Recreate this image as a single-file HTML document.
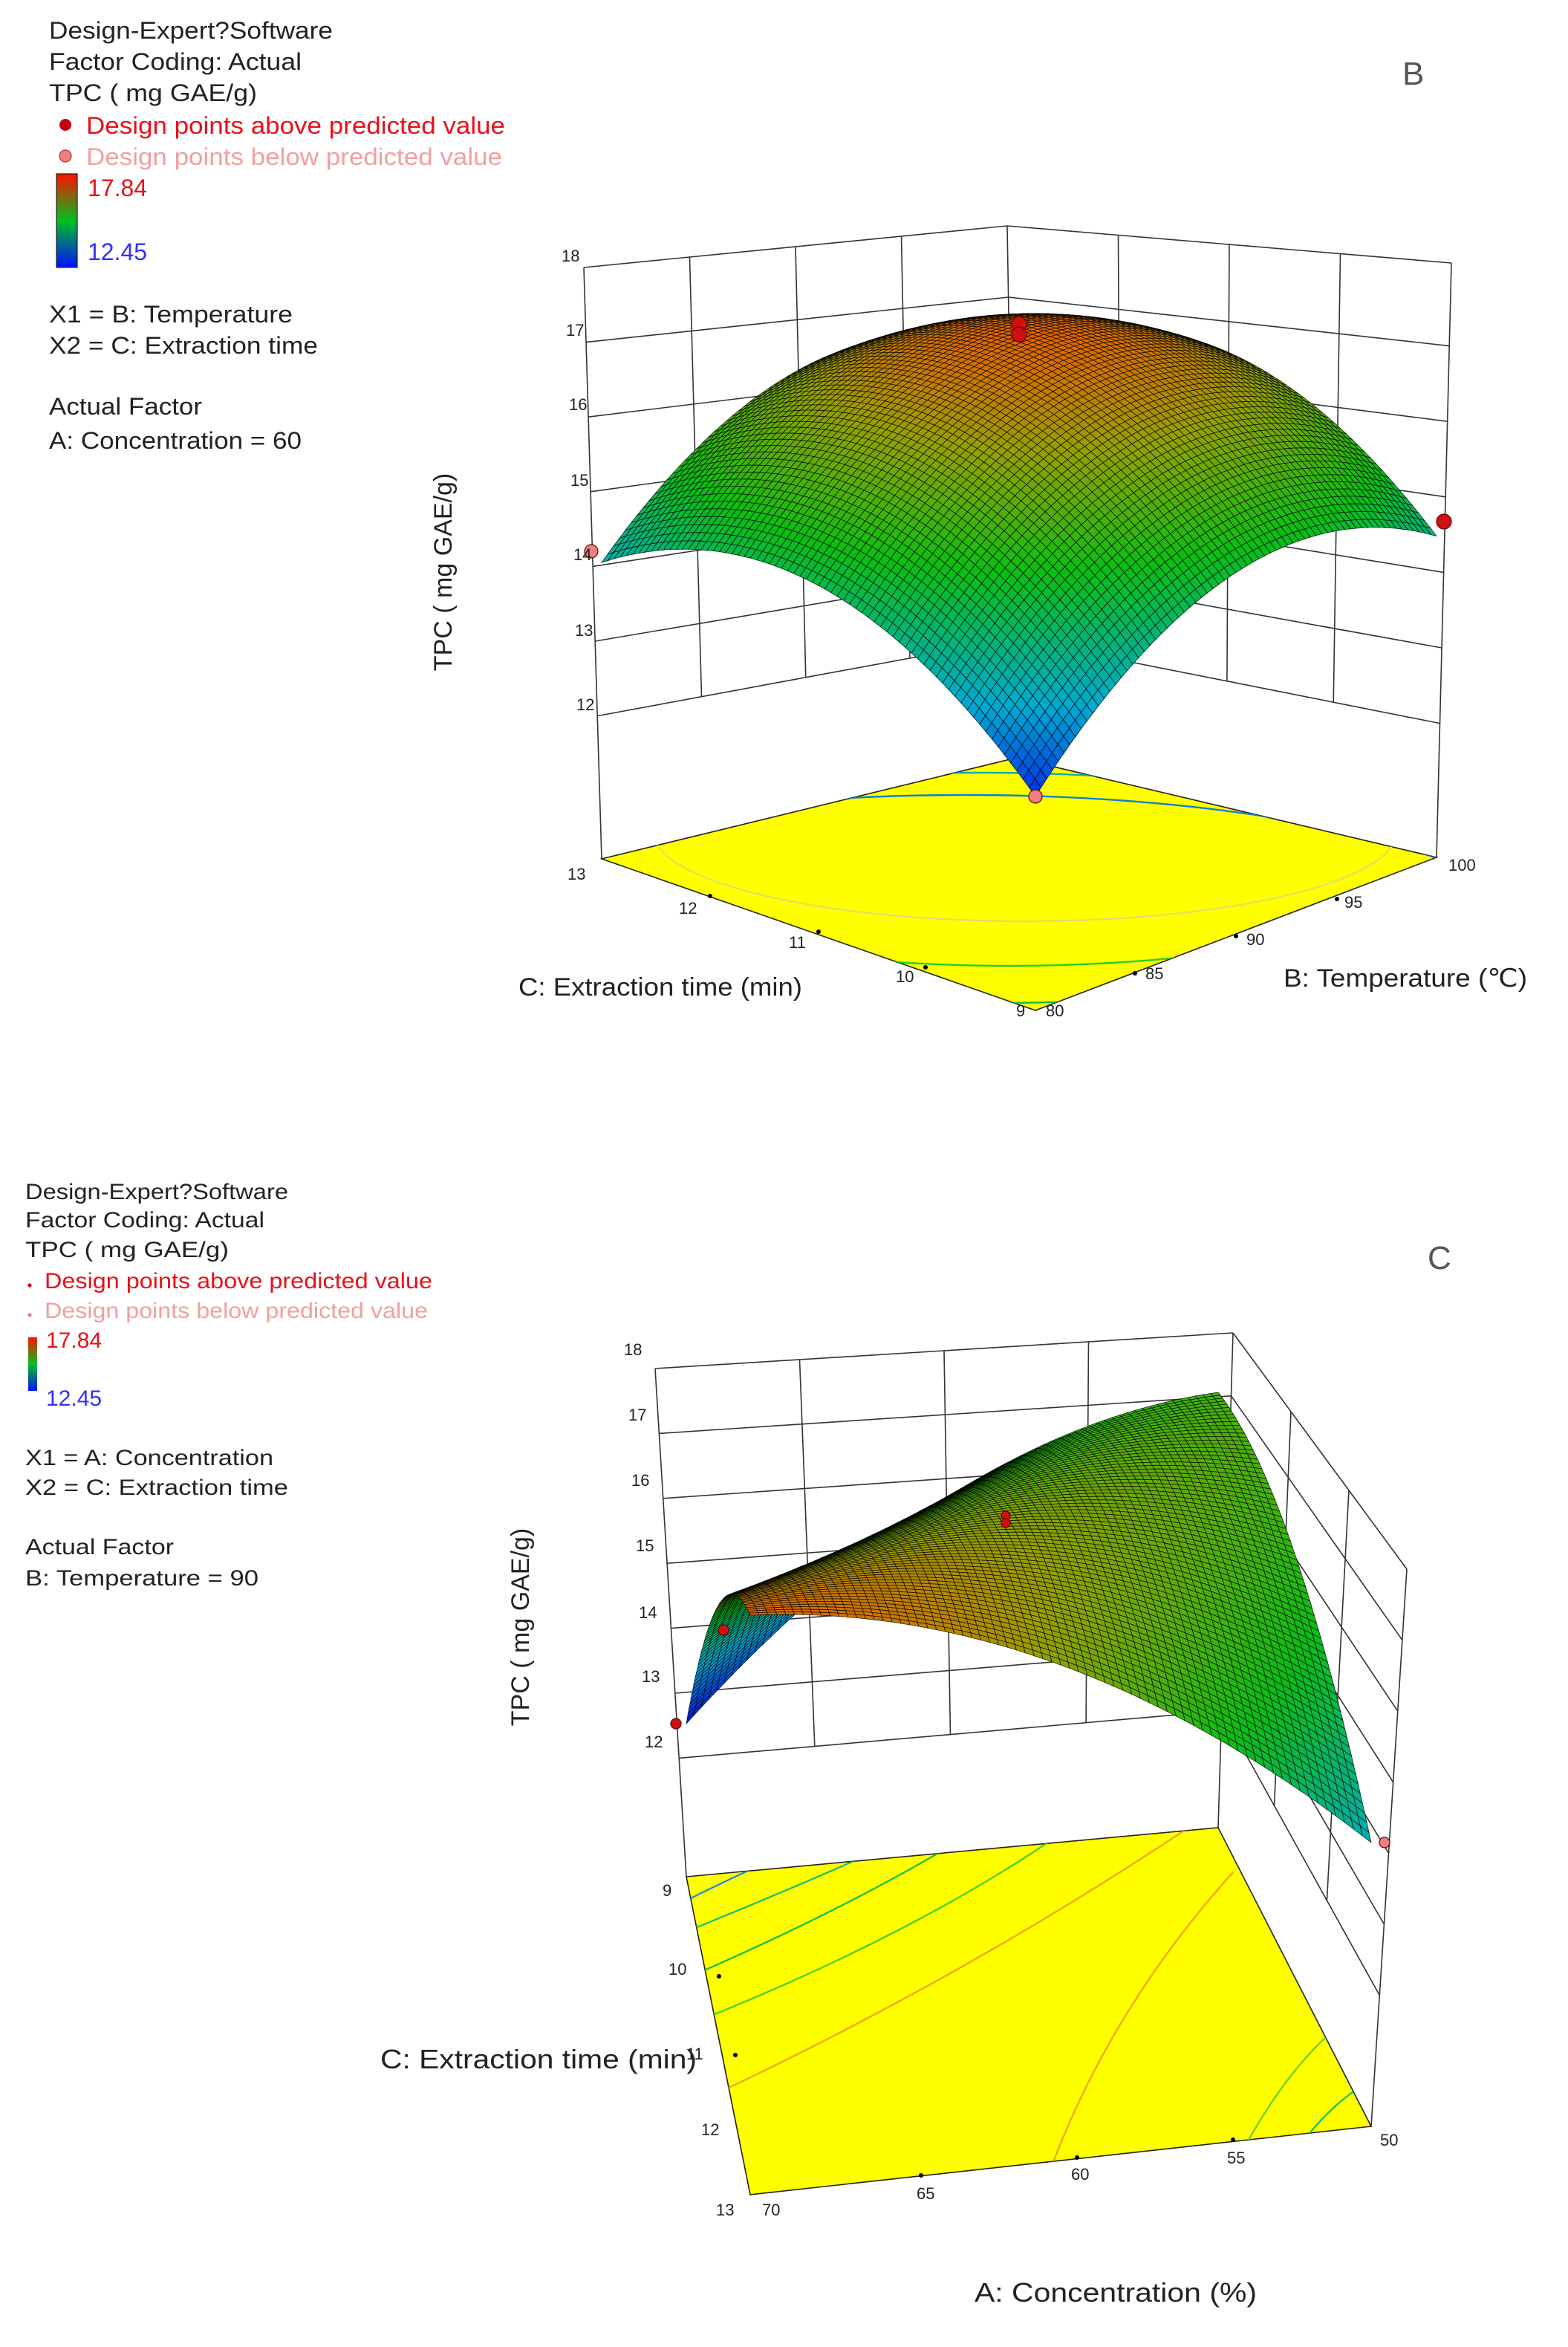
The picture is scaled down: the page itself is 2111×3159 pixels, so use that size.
<!DOCTYPE html>
<html><head><meta charset="utf-8">
<style>
html,body{margin:0;padding:0;background:#fff;}
svg{display:block;}
text{font-family:"Liberation Sans","DejaVu Sans",sans-serif;}
</style></head>
<body>
<svg id="s" xmlns="http://www.w3.org/2000/svg" width="2111" height="3159" viewBox="0 0 1055.5 1579.5">
<defs>
<linearGradient id="cb" x1="0" y1="1" x2="0" y2="0">
<stop offset="0" stop-color="#0010ff"/><stop offset="0.5" stop-color="#00c020"/><stop offset="1" stop-color="#ff1000"/>
</linearGradient>
<clipPath id="fB"><polygon points="405,578 697,680 967,577 684,510"/></clipPath>
<clipPath id="fC"><polygon points="462,1263 820,1230 923,1431 505,1477"/></clipPath>
</defs>
<rect width="1055.5" height="1579.5" fill="#fff"/>
<g id="walls" stroke="#333" stroke-width="0.8" fill="none"></g>
<polygon points="405,578 697,680 967,577 684,510" fill="#ffff00" stroke="#222" stroke-width="0.8"/>
<g clip-path="url(#fB)" fill="none" stroke-width="1.2">
<ellipse cx="690" cy="560" rx="250" ry="60" stroke="#e0e060"/>
<ellipse cx="680" cy="575" rx="300" ry="75" stroke="#20d020"/>
<ellipse cx="670" cy="590" rx="330" ry="85" stroke="#10c040"/>
<ellipse cx="660" cy="610" rx="360" ry="90" stroke="#10b0a0"/>
<ellipse cx="650" cy="630" rx="380" ry="95" stroke="#1080d0"/>
</g>
<polygon points="462,1263 820,1230 923,1431 505,1477" fill="#ffff00" stroke="#222" stroke-width="0.8"/>
<g clip-path="url(#fC)" fill="none" stroke-width="1.1">
<path d="M460,1280 Q520,1250 560,1235" stroke="#1090d0"/>
<path d="M462,1300 Q560,1260 620,1232" stroke="#10c070"/>
<path d="M465,1330 Q580,1280 660,1230" stroke="#10c040"/>
<path d="M470,1360 Q620,1300 720,1230" stroke="#40d020"/>
<path d="M480,1410 Q650,1330 800,1230" stroke="#f0a020"/>
<path d="M700,1480 Q740,1360 830,1260" stroke="#f0a020"/>
<path d="M830,1460 Q870,1380 920,1350" stroke="#60d020"/>
<path d="M870,1450 Q900,1410 925,1400" stroke="#10c060"/>
</g>
<g id="surf"></g>
<g id="pts"></g>
<g id="txt" font-size="11" fill="#222"></g>

<g font-size="16" fill="#222">
<text x="33" y="26" textLength="191" lengthAdjust="spacingAndGlyphs">Design-Expert?Software</text>
<text x="33" y="47" textLength="170" lengthAdjust="spacingAndGlyphs">Factor Coding: Actual</text>
<text x="33" y="68" textLength="140" lengthAdjust="spacingAndGlyphs">TPC ( mg GAE/g)</text>
<circle cx="44" cy="84" r="4" fill="#c00010"/>
<text x="58" y="90" fill="#e8101a" textLength="282" lengthAdjust="spacingAndGlyphs">Design points above predicted value</text>
<circle cx="44" cy="105" r="4" fill="#f08080" stroke="#a04040" stroke-width="0.6"/>
<text x="58" y="111" fill="#f0a0a0" textLength="280" lengthAdjust="spacingAndGlyphs">Design points below predicted value</text>
<rect x="38" y="117" width="14" height="63" fill="url(#cb)" stroke="#222" stroke-width="0.6"/>
<text x="59" y="132" fill="#e8101a">17.84</text>
<text x="59" y="175" fill="#3030ff">12.45</text>
<text x="33" y="217" textLength="164" lengthAdjust="spacingAndGlyphs">X1 = B: Temperature</text>
<text x="33" y="238" textLength="181" lengthAdjust="spacingAndGlyphs">X2 = C: Extraction time</text>
<text x="33" y="279" textLength="103" lengthAdjust="spacingAndGlyphs">Actual Factor</text>
<text x="33" y="302" textLength="170" lengthAdjust="spacingAndGlyphs">A: Concentration = 60</text>
<text x="944" y="57" font-size="22" fill="#555">B</text>
<text x="349" y="670" font-size="17" textLength="191" lengthAdjust="spacingAndGlyphs">C: Extraction time (min)</text>
<text x="864" y="664" font-size="17" textLength="164" lengthAdjust="spacingAndGlyphs">B: Temperature (℃)</text>
<text transform="translate(304,385) rotate(-90)" text-anchor="middle" font-size="17">TPC ( mg GAE/g)</text>
</g>
<g font-size="15" fill="#222">
<text x="17" y="807" textLength="177" lengthAdjust="spacingAndGlyphs">Design-Expert?Software</text>
<text x="17" y="826" textLength="161" lengthAdjust="spacingAndGlyphs">Factor Coding: Actual</text>
<text x="17" y="846" textLength="137" lengthAdjust="spacingAndGlyphs">TPC ( mg GAE/g)</text>
<circle cx="20" cy="865" r="1.3" fill="#c00010"/>
<text x="30" y="867" fill="#e8101a" textLength="261" lengthAdjust="spacingAndGlyphs">Design points above predicted value</text>
<circle cx="20" cy="885" r="1.3" fill="#e08080"/>
<text x="30" y="887" fill="#f0a0a0" textLength="258" lengthAdjust="spacingAndGlyphs">Design points below predicted value</text>
<rect x="19" y="900" width="6" height="36" fill="url(#cb)"/>
<text x="31" y="907" fill="#e8101a">17.84</text>
<text x="31" y="946" fill="#3030ff">12.45</text>
<text x="17" y="986" textLength="167" lengthAdjust="spacingAndGlyphs">X1 = A: Concentration</text>
<text x="17" y="1006" textLength="177" lengthAdjust="spacingAndGlyphs">X2 = C: Extraction time</text>
<text x="17" y="1046" textLength="100" lengthAdjust="spacingAndGlyphs">Actual Factor</text>
<text x="17" y="1067" textLength="157" lengthAdjust="spacingAndGlyphs">B: Temperature = 90</text>
<text x="961" y="854" font-size="22" fill="#555">C</text>
<text x="256" y="1392" font-size="18" textLength="213" lengthAdjust="spacingAndGlyphs">C: Extraction time (min)</text>
<text x="656" y="1549" font-size="18" textLength="190" lengthAdjust="spacingAndGlyphs">A: Concentration (%)</text>
<text transform="translate(356,1095) rotate(-90)" text-anchor="middle" font-size="17">TPC ( mg GAE/g)</text>
</g>
</svg>
<script>
(function(){
var NS="http://www.w3.org/2000/svg";
function el(p,n,a){var e=document.createElementNS(NS,n);for(var k in a)e.setAttribute(k,a[k]);p.appendChild(e);return e;}
var W=document.getElementById('walls'),S=document.getElementById('surf'),P=document.getElementById('pts'),T=document.getElementById('txt');
function L(a,b){el(W,'line',{x1:a[0],y1:a[1],x2:b[0],y2:b[1]});}
function lerp(a,b,t){return [a[0]+(b[0]-a[0])*t,a[1]+(b[1]-a[1])*t];}
function walls(edges,tops){
 edges.forEach(function(e){L(e.top,e.bot);});
 for(var i=0;i<edges.length-1;i++){
  var a=edges[i],b=edges[i+1];
  L(a.top,b.top);
  for(var z=12;z<=17;z++){
   var ya=a.y18+(18-z)*a.per, yb=b.y18+(18-z)*b.per;
   var xa=a.top[0]+(a.bot[0]-a.top[0])*(ya-a.top[1])/(a.bot[1]-a.top[1]);
   var xb=b.top[0]+(b.bot[0]-b.top[0])*(yb-b.top[1])/(b.bot[1]-b.top[1]);
   L([xa,ya],[xb,yb]);
  }
  var ya12=a.y18+6*a.per,yb12=b.y18+6*b.per;
  var xa12=a.top[0]+(a.bot[0]-a.top[0])*(ya12-a.top[1])/(a.bot[1]-a.top[1]);
  var xb12=b.top[0]+(b.bot[0]-b.top[0])*(yb12-b.top[1])/(b.bot[1]-b.top[1]);
  var n=tops[i];
  for(var k=1;k<n;k++){var t=k/n;L(lerp(a.top,b.top,t),lerp([xa12,ya12],[xb12,yb12],t));}
 }
}
walls([{top:[393,180],bot:[405,578],y18:180,per:50.3},{top:[678,152],bot:[684,510],y18:154,per:46},{top:[977,177],bot:[967,577],y18:182,per:50.8}],[4,4]);
walls([{top:[441,921],bot:[462,1263],y18:921,per:43.7},{top:[830,897],bot:[820,1230],y18:897,per:42.4},{top:[947,1056],bot:[923,1431],y18:1056,per:47.8}],[4,3]);

function cmap(t){t=Math.max(0,Math.min(1,t));
 var st=[[0,[0,20,230]],[0.25,[0,170,210]],[0.55,[10,190,20]],[0.8,[150,160,0]],[1,[240,90,0]]];
 for(var i=0;i<st.length-1;i++){if(t<=st[i+1][0]){var a=st[i],b=st[i+1],f=(t-a[0])/(b[0]-a[0]);
  return 'rgb('+[0,1,2].map(function(j){return Math.round(a[1][j]+(b[1][j]-a[1][j])*f);}).join(',')+')';}}
 return 'rgb(240,90,0)';}
function surface(F,h,tmin,tmax,N,sw,op){
 function fl(u,v){var a=lerp(F[0],F[1],u),b=lerp(F[2],F[3],u);return lerp(a,b,v);}
 function sp(u,v){var p=fl(u,v);return [p[0],p[1]-h(u,v)];}
 var q=[];
 for(var i=0;i<N;i++)for(var j=0;j<N;j++){
  var u0=i/N,u1=(i+1)/N,v0=j/N,v1=(j+1)/N;
  var c=fl((u0+u1)/2,(v0+v1)/2);
  q.push({d:c[1],pts:[sp(u0,v0),sp(u1,v0),sp(u1,v1),sp(u0,v1)],t:(h((u0+u1)/2,(v0+v1)/2)-tmin)/(tmax-tmin)});
 }
 q.sort(function(a,b){return a.d-b.d;});
 var g=el(S,'g',{stroke:'#000','stroke-width':sw,'stroke-opacity':op});
 q.forEach(function(o){el(g,'polygon',{points:o.pts.map(function(p){return p[0].toFixed(1)+','+p[1].toFixed(1);}).join(' '),fill:cmap(o.t)});});
}
surface([[697,680],[967,577],[405,578],[684,510]],function(u,v){return 144+0.88*(369*u+350*v-287*u*u-287*v*v);},135,350,70,0.4,0.8);
surface([[505,1477],[923,1431],[462,1263],[820,1230]],function(u,v){
 var b=390*(1-u)*(1-v)+191*u*(1-v)+103*(1-u)*v+293*u*v;return b+172*u*(1-u)+172*v*(1-v);},103,400,70,0.4,0.8);

function dot(x,y,c,r){el(P,'circle',{cx:x,cy:y,r:r,fill:c,stroke:'#600','stroke-width':0.6});}
dot(686,218,'#d01010',5);dot(686,225,'#d01010',5);dot(398,371,'#f08080',4.5);dot(697,536,'#f08080',4.5);dot(972,351,'#d01010',5);
dot(455,1160,'#d01010',3.5);dot(487,1097,'#d01010',3.5);dot(677,1020,'#d01010',3);dot(677,1025,'#d01010',3);dot(932,1240,'#f08080',3.5);

function tx(x,y,s){var t=el(T,'text',{x:x,y:y});t.textContent=s;}
[[378,176,'18'],[381,226,'17'],[383,276,'16'],[384,327,'15'],[386,377,'14'],[387,428,'13'],[388,478,'12'],
 [382,592,'13'],[457,615,'12'],[531,638,'11'],[603,661,'10'],[684,684,'9'],
 [704,684,'80'],[771,659,'85'],[839,636,'90'],[905,611,'95'],[975,586,'100'],
 [420,912,'18'],[423,956,'17'],[425,1000,'16'],[428,1044,'15'],[430,1089,'14'],[432,1132,'13'],[434,1176,'12'],
 [446,1276,'9'],[450,1329,'10'],[462,1386,'11'],[472,1437,'12'],[482,1491,'13'],
 [513,1491,'70'],[617,1480,'65'],[721,1467,'60'],[826,1456,'55'],[929,1444,'50']
].forEach(function(a){tx(a[0],a[1],a[2]);});
[[478,603],[551,627],[623,651],[764,655],[832,630],[900,605],[484,1330],[495,1383],[620,1464],[725,1452],[830,1440]].forEach(function(p){el(P,'circle',{cx:p[0],cy:p[1],r:1.5,fill:'#000'});});
})();
</script>
</body></html>
